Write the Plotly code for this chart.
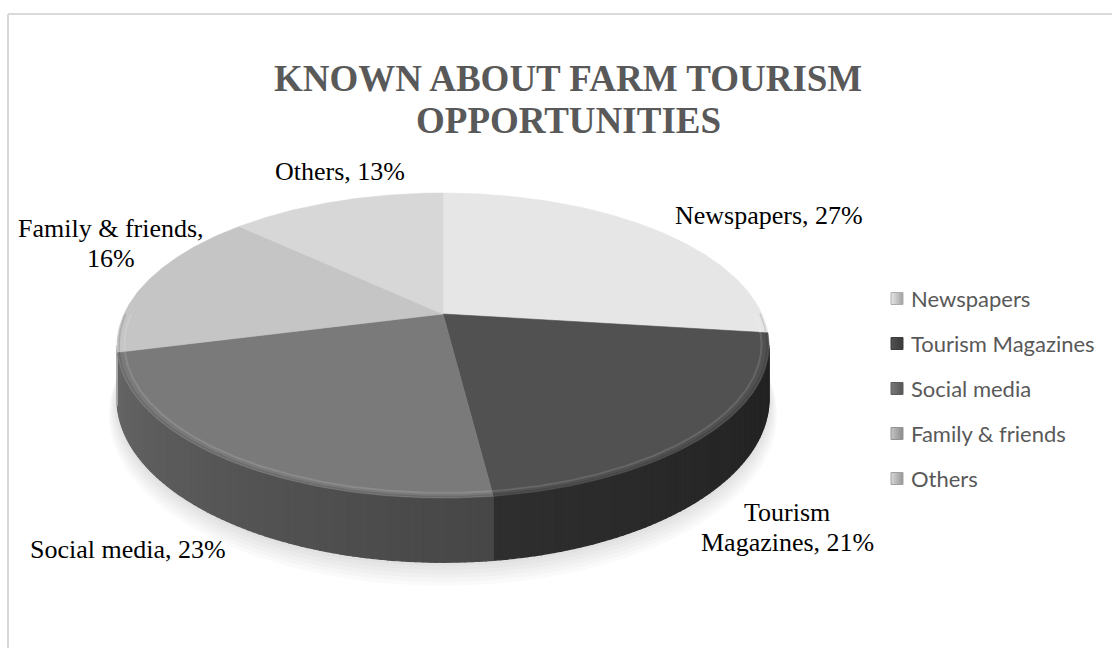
import math
import plotly.graph_objects as go

# ---- data -------------------------------------------------------------
categories = ["Newspapers", "Tourism Magazines", "Social media", "Family & friends", "Others"]
shares = [27, 21, 23, 16, 13]
title_lines = ["KNOWN ABOUT FARM TOURISM", "OPPORTUNITIES"]

# ---- styling ------------------------------------------------------------
top_colors = ["#e6e6e6", "#515151", "#7a7a7a", "#c5c5c5", "#d7d7d7"]
label_wrap = [None, 1, None, 3, None]          # break label after n words
label_centres = [(769, 215), (787, 527), (128, 549), (111, 243), (340, 171)]
LABEL_LINE = 30

W, H = 1112, 648
CX, CY = 443.0, 314.0      # projected centre of the pie top
RX, RY = 319.0, 146.0      # radii of the tilted disc
PERSP = -0.2066            # perspective factor (front is nearer)
DEPTH = 51.0               # thickness of the disc

LEG_X, LEG_Y0, LEG_STEP = 897, 298.5, 45


def hex_rgb(h):
    h = h.lstrip("#")
    return [int(h[i:i + 2], 16) for i in (0, 2, 4)]


def rgb(c):
    c = [max(0, min(255, int(round(v)))) for v in c]
    return f"rgb({c[0]},{c[1]},{c[2]})"


def project(theta, r=1.0, drop=0.0):
    t = math.radians(theta)
    u = r * math.sin(t)
    v = -r * math.cos(t)
    d = 1 + PERSP * v
    return CX + RX * u / d, CY + (RY * v + DEPTH * drop) / d


def arc(a0, a1, r=1.0, drop=0.0, step=0.5):
    n = max(2, int(abs(a1 - a0) / step) + 1)
    pts = [project(a0 + (a1 - a0) * i / (n - 1), r, drop) for i in range(n)]
    return [p[0] for p in pts], [p[1] for p in pts]


total = float(sum(shares))
bounds = []
acc = 0.0
for s in shares:
    bounds.append((360 * acc / total, 360 * (acc + s) / total))
    acc += s

vis_lo = math.degrees(math.acos(PERSP))
vis_hi = 360 - vis_lo

fig = go.Figure()

# soft shadow under the disc
for i in range(6, -1, -1):
    xs, ys = arc(0, 360, r=1 + 0.004 * i, drop=1 + 0.045 * i, step=2)
    fig.add_trace(go.Scatter(x=xs, y=ys, mode="lines", fill="toself",
                             fillcolor="rgba(0,0,0,0.018)", line=dict(width=0),
                             hoverinfo="skip", showlegend=False))

# visible rim (side wall) of every slice, shaded in thin strips
for (a0, a1), col in zip(bounds, top_colors):
    lo, hi = max(a0, vis_lo), min(a1, vis_hi)
    if hi <= lo:
        continue
    base = hex_rgb(col)
    n = max(1, int((hi - lo) / 1.0))
    for k in range(n):
        t0 = lo + (hi - lo) * k / n
        t1 = lo + (hi - lo) * (k + 1) / n
        tm = 0.5 * (t0 + t1)
        f = 0.42 + 0.43 * ((tm - vis_lo) / (vis_hi - vis_lo)) ** 1.3
        c = rgb([v * f for v in base])
        tx, ty = arc(t0, t1, step=0.5)
        bx, by = arc(t1, t0, drop=1, step=0.5)
        fig.add_trace(go.Scatter(x=tx + bx + [tx[0]], y=ty + by + [ty[0]], mode="lines",
                                 fill="toself", fillcolor=c, line=dict(width=1.2, color=c),
                                 hoverinfo="skip", showlegend=False))

# top faces
for (a0, a1), col in zip(bounds, top_colors):
    xs, ys = arc(a0, a1)
    fig.add_trace(go.Scatter(x=[CX] + xs + [CX], y=[CY] + ys + [CY], mode="lines",
                             fill="toself", fillcolor=col, line=dict(width=0.6, color=col),
                             hoverinfo="skip", showlegend=False))

# bevel along the front rim of the top faces
bev_lo, bev_hi = vis_lo - 12, vis_hi + 12
for (a0, a1), col in zip(bounds, top_colors):
    lo, hi = max(a0, bev_lo), min(a1, bev_hi)
    if hi <= lo:
        continue
    base = hex_rgb(col)
    light = rgb([v + (255 - v) * 0.12 for v in base])
    edge = rgb([v * 0.88 for v in base])
    xs, ys = arc(lo, hi, r=0.994)
    fig.add_trace(go.Scatter(x=xs, y=ys, mode="lines", line=dict(width=1.5, color=edge),
                             hoverinfo="skip", showlegend=False))
    xs, ys = arc(lo, hi, r=0.978)
    fig.add_trace(go.Scatter(x=xs, y=ys, mode="lines", line=dict(width=2, color=light),
                             hoverinfo="skip", showlegend=False))

# legend swatches
leg_y = [LEG_Y0 + LEG_STEP * i for i in range(len(categories))]
fig.add_trace(go.Scatter(
    x=[LEG_X] * len(categories), y=leg_y, mode="markers",
    marker=dict(symbol="square", size=12, color=top_colors,
                line=dict(width=1, color=[rgb([v * 0.75 for v in hex_rgb(c)]) for c in top_colors]),
                gradient=dict(type="horizontal", color=[rgb([v * 0.7 for v in hex_rgb(c)]) for c in top_colors])),
    hoverinfo="skip", showlegend=False))

annotations = []
for name, y in zip(categories, leg_y):
    annotations.append(dict(x=LEG_X + 12, y=y, text=name, showarrow=False, xanchor="left",
                            yanchor="middle", xref="x", yref="y",
                            font=dict(family="Lato", size=22, color="#595959")))

# data labels
for name, val, wrap, (lx, ly) in zip(categories, shares, label_wrap, label_centres):
    words = f"{name}, {val}%".split(" ")
    lines = [" ".join(words)] if wrap is None else [" ".join(words[:wrap]), " ".join(words[wrap:])]
    y0 = ly - LABEL_LINE * (len(lines) - 1) / 2
    for j, line in enumerate(lines):
        annotations.append(dict(x=lx, y=y0 + LABEL_LINE * j, text=line, showarrow=False,
                                xanchor="center", yanchor="middle", xref="x", yref="y",
                                font=dict(family="Liberation Serif", size=26, color="#000000")))

# title
for j, line in enumerate(title_lines):
    annotations.append(dict(x=568, y=78 + 42 * j, text=line, showarrow=False,
                            xanchor="center", yanchor="middle", xref="x", yref="y",
                            font=dict(family="Liberation Serif", size=37, color="#595959",
                                      weight="bold")))

fig.update_layout(
    width=W, height=H, autosize=False,
    margin=dict(l=0, r=0, t=0, b=0),
    paper_bgcolor="white", plot_bgcolor="white",
    xaxis=dict(range=[0, W], visible=False, fixedrange=True),
    yaxis=dict(range=[H, 0], visible=False, fixedrange=True),
    annotations=annotations,
    shapes=[
        dict(type="line", xref="x", yref="y", x0=8, y0=14, x1=W, y1=14,
             line=dict(color="#d9d9d9", width=2)),
        dict(type="line", xref="x", yref="y", x0=8, y0=14, x1=8, y1=H,
             line=dict(color="#d9d9d9", width=2)),
    ],
)

fig.write_html("out.html")
